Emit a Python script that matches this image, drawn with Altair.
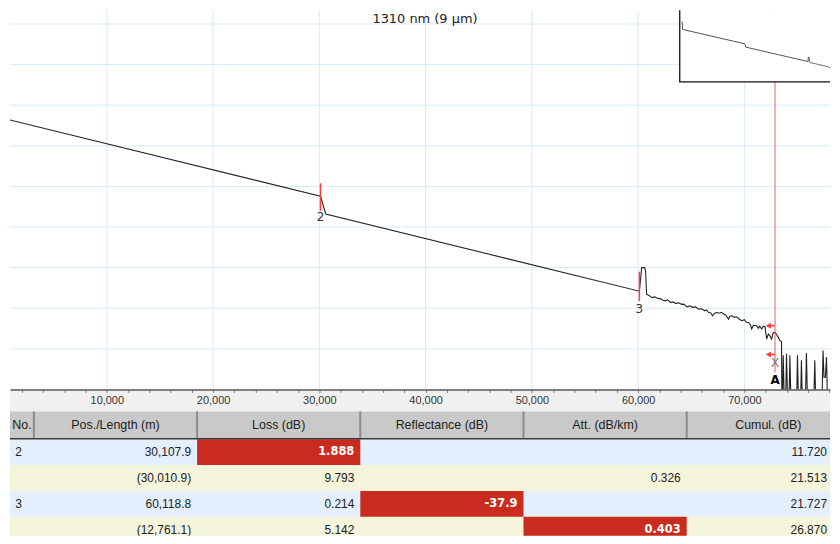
import altair as alt
import pandas as pd

# ---------------- data ----------------
TITLE = "1310 nm (9 µm)"

# OTDR trace: distance (m) and level (dB)
trace_m = [0, 400, 560, 672, 30108, 30600, 60119, 60330, 60609, 60700, 60796,
           61011, 61320, 61573, 61854, 62135, 62322, 62575, 62790, 63043, 63259,
           63540, 63821, 64102, 64289, 64598, 64851, 65132, 65413, 65694, 65975,
           66256, 66443, 66630, 66817, 67005, 67192, 67407, 67660, 67848, 68035,
           68222, 68503, 68644, 68812, 69065, 69252, 69533, 69749, 70001, 70189,
           70376, 70563, 70685, 70844, 71153, 71313, 71453, 71622, 71781, 71940,
           72090, 72249, 72390, 72558, 72717, 72877, 73045, 73186, 73345, 73495,
           73540, 73654, 73790, 73850, 73962, 74110, 74170, 74282, 74420, 74880,
           74993, 75130, 75250, 75366, 75500, 75700, 75836, 75980, 76480, 76623,
           76760, 77260, 77400, 77490, 77620, 77729, 77860, 78040, 78178, 78310,
           78600, 78740, 78880]
trace_db = [38.1, 38.1, 33.4, 33.25, 23.8, 21.6, 12.1, 15.0, 15.0, 14.6, 11.73,
            11.58, 11.31, 11.40, 11.21, 11.15, 10.97, 10.91, 11.03, 10.70, 10.78,
            10.60, 10.66, 10.48, 10.50, 10.17, 10.29, 10.11, 10.17, 9.89, 9.93,
            9.68, 9.80, 9.47, 9.44, 9.07, 9.38, 9.47, 9.38, 9.50, 9.28,
            9.19, 8.66, 9.01, 9.07, 8.88, 8.95, 8.64, 8.46, 8.58, 8.27,
            8.25, 7.97, 7.44, 7.90, 7.84, 7.54, 7.78, 7.44, 7.78, 7.72,
            6.21, 6.83, 6.62, 6.21, 6.99, 7.02, 6.74, 6.41, 6.00, 5.9,
            -4.0, 4.2, -4.0, -4.0, 4.4, -4.0, -4.0, 4.2, -4.0, -4.0,
            4.2, -4.0, -4.0, 3.6, -4.0, -4.0, 4.5, -4.0, -4.0, 3.6,
            -4.0, -4.0, 4.8, 1.5, 1.5, 4.0, -4.0, -4.0, 3.6, -4.0,
            -4.0, 5.0, -4.0]

# events
event_pos = [30107.9, 60118.8]
event_label = ["2", "3"]
event_top = [25.4, 14.5]
event_bot = [22.0, 10.9]
event_label_db = [21.2, 9.9]

# cursor A
cursor_pos = [72879.9]
cursor_low = [2.1]
arrow_tip = [72250, 72250]
arrow_db = [7.84, 4.3]
cursor_x_db = [3.3]
cursor_a_db = [1.1]

# axes
x_ticks = list(range(2000, 78001, 2000))
x_grid = [10000, 20000, 30000, 40000, 50000, 60000, 70000]
y_grid = [5, 10, 15, 20, 25, 30, 35, 40, 45]

# event table
columns = ["No.", "Pos./Length (m)", "Loss (dB)", "Reflectance (dB)", "Att. (dB/km)", "Cumul. (dB)"]
col_no = ["2", "", "3", ""]
col_pos = ["30,107.9", "(30,010.9)", "60,118.8", "(12,761.1)"]
col_loss = ["1.888", "9.793", "0.214", "5.142"]
col_refl = ["", "", "-37.9", ""]
col_att = ["", "0.326", "", "0.403"]
col_cumul = ["11.720", "21.513", "21.727", "26.870"]
flagged = [(0, "Loss (dB)"), (2, "Reflectance (dB)"), (3, "Att. (dB/km)")]

# ---------------- layout / style ----------------
W, H = 824, 381
BAND = 22
TBL_H = 528 - H - BAND
GRID = "#d6e9fb"
RED = "#ff3b3b"
CELL_RED = "#c92b1e"
FONT = "Liberation Sans"

XS = alt.Scale(domain=[888, 78056], nice=False, zero=False)
YS = alt.Scale(domain=[0, 46.69], nice=False, zero=False)
XAX = alt.Axis(values=x_ticks, labelExpr="datum.value % 10000 === 0 ? format(datum.value, ',') : ''",
               labelOverlap=False, labelFont=FONT, labelFontSize=11, labelColor="#333",
               tickSize=3, tickColor="#7a7a7a", domainColor="#5a5a5a", domainWidth=1.5,
               grid=False, zindex=1, labelPadding=2)


def xm(f):
    return alt.X(f"{f}:Q", scale=XS, axis=XAX, title=None)


def yd(f):
    return alt.Y(f"{f}:Q", scale=YS, axis=None, title=None)


trace_df = pd.DataFrame({"m": trace_m, "db": trace_db, "i": list(range(len(trace_m)))})
one = pd.DataFrame({"t": [TITLE]})

band = alt.Chart(one).mark_rect(fill="#f0f0f0").encode(
    x=alt.value(0), x2=alt.value(W), y=alt.value(H), y2=alt.value(H + BAND))

hgrid = alt.Chart(pd.DataFrame({"db": y_grid})).mark_rule(color=GRID, strokeWidth=1, clip=True).encode(y=yd("db"))
vgrid = alt.Chart(pd.DataFrame({"m": x_grid})).mark_rule(color=GRID, strokeWidth=1, clip=True).encode(x=xm("m"))

trace = alt.Chart(trace_df).mark_line(color="#222", strokeWidth=1.1, clip=True).encode(
    x=xm("m"), y=yd("db"), order="i:Q")

ev_df = pd.DataFrame({"m": event_pos, "top": event_top, "bot": event_bot,
                      "lab": event_label, "ly": event_label_db})
ev_ticks = alt.Chart(ev_df).mark_rule(color=RED, strokeWidth=1.5, clip=True).encode(
    x=xm("m"), y=yd("top"), y2="bot:Q")
ev_text = alt.Chart(ev_df).mark_text(font="DejaVu Sans", fontSize=12, color="#333", clip=True).encode(
    x=xm("m"), y=yd("ly"), text="lab:N")

cur_df = pd.DataFrame({"m": cursor_pos, "lo": cursor_low})
cursor = alt.Chart(cur_df).mark_rule(color="#f25c5c", strokeWidth=1, clip=True).encode(
    x=xm("m"), y=yd("lo"), y2=alt.value(0))

arr_df = pd.DataFrame({"m": arrow_tip, "m2": cursor_pos * 2, "db": arrow_db})
arr_shaft = alt.Chart(arr_df).mark_rule(color=RED, strokeWidth=1.5, clip=True).encode(
    x=xm("m"), x2="m2:Q", y=yd("db"))
arr_head = alt.Chart(arr_df).mark_point(shape="triangle-left", filled=True, color=RED, size=36,
                                        opacity=1, clip=True).encode(x=xm("m"), y=yd("db"))

x_df = pd.DataFrame({"m": cursor_pos, "db": cursor_x_db, "t": ["X"]})
a_df = pd.DataFrame({"m": cursor_pos, "db": cursor_a_db, "t": ["A"]})
x_text = alt.Chart(x_df).mark_text(font="DejaVu Sans", fontSize=12, color="#777", clip=True).encode(
    x=xm("m"), y=yd("db"), text="t:N")
a_text = alt.Chart(a_df).mark_text(font="DejaVu Sans", fontSize=12, fontWeight="bold", color="#000",
                                   clip=True).encode(x=xm("m"), y=yd("db"), text="t:N")

title_txt = alt.Chart(one).mark_text(font="DejaVu Sans", fontSize=13, color="#222").encode(
    x=alt.value(417), y=alt.value(9), text="t:N")

main = alt.layer(band, hgrid, vgrid, trace, ev_ticks, cursor, arr_shaft, arr_head,
                 ev_text, x_text, a_text, title_txt)

# inset overview
IX = alt.Scale(domain=[-800, 74400], range=[673, 832], nice=False, zero=False)
IY = alt.Scale(domain=[-1.4, 48.6], range=[72, -4], nice=False, zero=False)
box = alt.Chart(one).mark_rect(fill="white", stroke="#111", strokeWidth=1.3, clip=True).encode(
    x=alt.value(673), x2=alt.value(840), y=alt.value(-4), y2=alt.value(72))
inset_line = alt.Chart(trace_df).transform_filter("datum.m <= 73600").mark_line(
    color="#555", strokeWidth=1, clip=True).encode(
    x=alt.X("m:Q", scale=IX, axis=None), y=alt.Y("db:Q", scale=IY, axis=None), order="i:Q")
inset = alt.layer(box, inset_line)

top = alt.layer(main, inset).resolve_scale(x="independent", y="independent").properties(width=W, height=H)

# ---------------- table ----------------
COL_EDGES = [-28, 24, 188, 352, 516, 680, 844]
HDR_H = 27
ROW0 = 28
ROW_H = 26
PAD = 6
NO_HDR_X = 12
TX = alt.Scale(domain=[0, W], range=[0, W], nice=False, zero=False)
TY = alt.Scale(domain=[0, TBL_H], range=[0, TBL_H], nice=False, zero=False)


def tx(f):
    return alt.X(f"{f}:Q", scale=TX, axis=None, title=None)


def ty(f):
    return alt.Y(f"{f}:Q", scale=TY, axis=None, title=None)


body = [col_no, col_pos, col_loss, col_refl, col_att, col_cumul]
rows_bg = pd.DataFrame({
    "x0": [COL_EDGES[0]] * 4, "x1": [COL_EDGES[-1]] * 4,
    "y0": [ROW0 + r * ROW_H for r in range(4)],
    "y1": [ROW0 + (r + 1) * ROW_H for r in range(4)],
    "fill": ["#e3effc" if r % 2 == 0 else "#f5f5dc" for r in range(4)]})
row_rects = alt.Chart(rows_bg).mark_rect(clip=True).encode(
    x=tx("x0"), x2="x1:Q", y=ty("y0"), y2="y1:Q", fill=alt.Fill("fill:N", scale=None))

fl = pd.DataFrame({
    "x0": [COL_EDGES[columns.index(c)] for r, c in flagged],
    "x1": [COL_EDGES[columns.index(c) + 1] for r, c in flagged],
    "y0": [ROW0 + r * ROW_H for r, c in flagged],
    "y1": [ROW0 + (r + 1) * ROW_H for r, c in flagged]})
red_cells = alt.Chart(fl).mark_rect(fill=CELL_RED, clip=True).encode(
    x=tx("x0"), x2="x1:Q", y=ty("y0"), y2="y1:Q")

hdr = pd.DataFrame({"x0": [COL_EDGES[0]], "x1": [COL_EDGES[-1]], "y0": [0], "y1": [HDR_H]})
hdr_rect = alt.Chart(hdr).mark_rect(fill="#c9c9c9", clip=True).encode(
    x=tx("x0"), x2="x1:Q", y=ty("y0"), y2="y1:Q")
hdr_line = alt.Chart(pd.DataFrame({"y": [HDR_H + 0.5]})).mark_rule(color="#3a3a3a", strokeWidth=1.6).encode(
    y=ty("y"))
sep = pd.DataFrame({"x": COL_EDGES[1:-1], "y0": [0] * 5, "y1": [HDR_H] * 5})
hdr_sep = alt.Chart(sep).mark_rule(color="#8c8c8c", strokeWidth=2, clip=True).encode(
    x=tx("x"), y=ty("y0"), y2="y1:Q")
hdr_txt_df = pd.DataFrame({"t": columns,
                           "x": [NO_HDR_X] + [(COL_EDGES[i] + COL_EDGES[i + 1]) / 2 for i in range(1, 6)],
                           "y": [HDR_H / 2 + 0.5] * 6})
hdr_txt = alt.Chart(hdr_txt_df).mark_text(font=FONT, fontSize=12.5, color="#222", clip=True).encode(
    x=tx("x"), y=ty("y"), text="t:N")

cells = []
for ci, col in enumerate(columns):
    for r in range(4):
        v = body[ci][r]
        if not v:
            continue
        if ci == 0:
            x, al = 8.5, "center"
        elif ci == 5:
            x, al = 821, "right"
        else:
            x, al = COL_EDGES[ci + 1] - PAD, "right"
        cells.append({"t": v, "x": x, "al": al, "y": ROW0 + r * ROW_H + ROW_H / 2,
                      "hl": (r, col) in flagged})
cells = pd.DataFrame(cells)
plain = cells[~cells.hl]
txt_c = alt.Chart(plain[plain.al == "center"]).mark_text(font=FONT, fontSize=12, color="#222", clip=True).encode(
    x=tx("x"), y=ty("y"), text="t:N")
txt_r = alt.Chart(plain[plain.al == "right"]).mark_text(font=FONT, fontSize=12, color="#222", align="right",
                                                       clip=True).encode(x=tx("x"), y=ty("y"), text="t:N")
txt_hl = alt.Chart(cells[cells.hl]).mark_text(font="DejaVu Sans", fontSize=11.5, fontWeight="bold",
                                              color="white", align="right", clip=True).encode(
    x=tx("x"), y=ty("y"), text="t:N")

table = alt.layer(row_rects, red_cells, hdr_rect, hdr_sep, hdr_line, hdr_txt, txt_c, txt_r, txt_hl).properties(
    width=W, height=TBL_H)

chart = alt.vconcat(top, table, spacing=BAND, bounds="flush", padding=0, background="white").configure_view(
    stroke="transparent")

chart.save("out.html", embed_options={"renderer": "svg", "actions": False})
